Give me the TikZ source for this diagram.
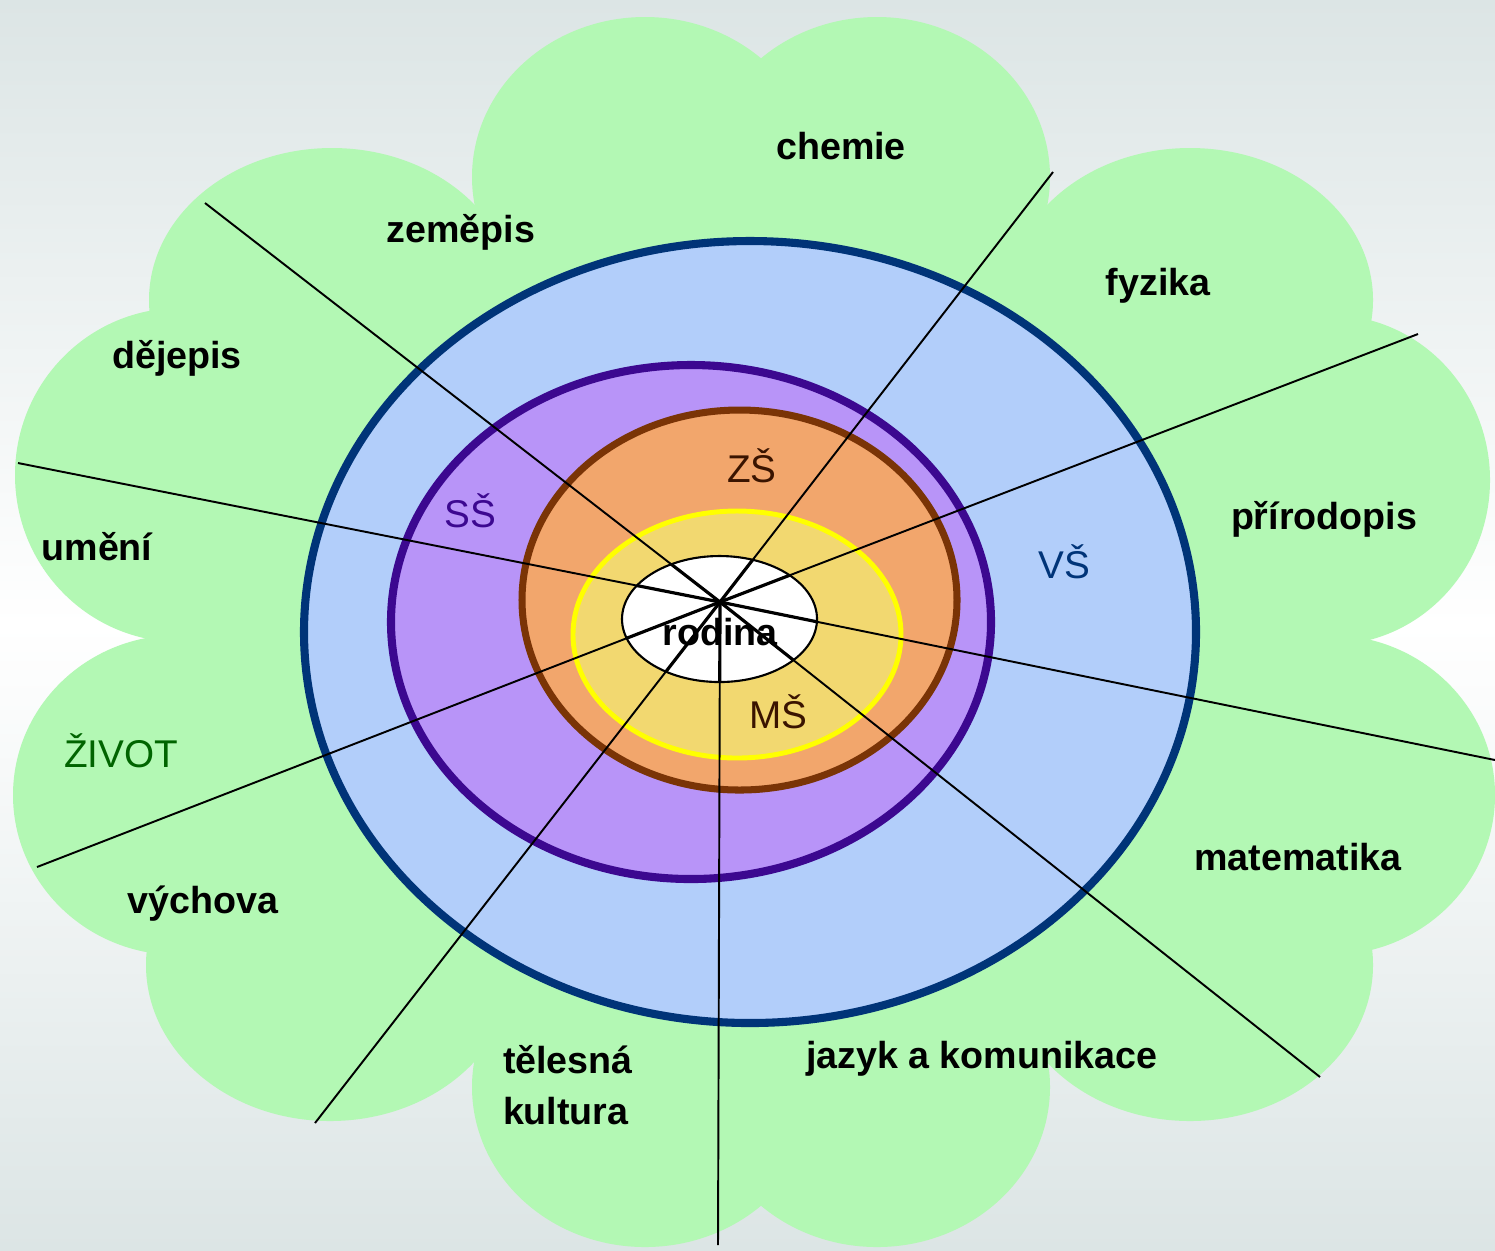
\documentclass[tikz,border=0pt]{standalone}
\usepackage{fontspec}
\setmainfont{Liberation Sans}

\definecolor{bggrey}{HTML}{DCE5E5}
\definecolor{petalgreen}{HTML}{B3F8B4}
\definecolor{vsfill}{HTML}{B2CEFA}
\definecolor{vsline}{HTML}{003478}
\definecolor{ssfill}{HTML}{B894F8}
\definecolor{ssline}{HTML}{3C0890}
\definecolor{zsfill}{HTML}{F2A66C}
\definecolor{zsline}{HTML}{7A3406}
\definecolor{msfill}{HTML}{F2D870}
\definecolor{msline}{HTML}{FFFF00}
\definecolor{zstext}{HTML}{3A1400}
\definecolor{lifegreen}{HTML}{006400}

\begin{document}
\begin{tikzpicture}[
    x = 0.01cm,
    y = -0.01cm,
    petal/.style = {fill=petalgreen},
    ray/.style = {black, line width=0.55pt},
    subject/.style = {font=\fontsize{10.7}{13}\selectfont\bfseries,
              anchor=base, inner sep=0pt, outer sep=0pt},
    school/.style = {font=\fontsize{11}{13}\selectfont,
              anchor=base, inner sep=0pt, outer sep=0pt},
    ]

\useasboundingbox (0,0) rectangle (1495,1250);
\shade [top color=bggrey, bottom color=white] (0,0) rectangle (1495,625);
\shade [top color=white, bottom color=bggrey] (0,625) rectangle (1495,1250);

% petals
\foreach \cx/\cy/\rx/\ry in {645/177/173/160, 877/177/173/160, 1190/300/183/152,
    1330/480/160/165, 1330/795/165/160, 1190/965/183/156, 877/1087/173/160,
    645/1087/173/160, 330/965/184/156, 178/795/165/160, 180/475/165/167,
    332/300/183/152}
    \fill [petal] (\cx,\cy) ellipse [x radius=\rx, y radius=\ry];
\fill [petal] (645,177) -- (877,177) -- (1190,300) -- (1330,480) -- (1330,795)
    -- (1190,965) -- (877,1087) -- (645,1087) -- (330,965) -- (178,795)
    -- (180,475) -- (332,300) -- cycle;

% rings
\draw [vsline, fill=vsfill, line width=2.3pt] (750,632) ellipse [x radius=446, y radius=391];
\draw [ssline, fill=ssfill, line width=2.3pt] (691,622) ellipse [x radius=300, y radius=257];
\draw [zsline, fill=zsfill, line width=2pt] (739.5,600) ellipse [x radius=217.5, y radius=190];
\draw [msline, fill=msfill, line width=1.4pt] (737,634.5) ellipse [x radius=164, y radius=123.5];
\draw [black, fill=white, line width=0.6pt] (719.5,619) ellipse [x radius=97.5, y radius=63];

% rays
\coordinate (hub) at (720,602);
\foreach \ex/\ey [count=\i] in {205/203, 1053/172, 1418/334, 1495/760, 1320/1077,
    718/1245, 315/1123, 37/867, 18/463}
    \coordinate (end_\i) at (\ex,\ey);
\foreach \i in {1,...,9}
    \draw [ray] (hub) -- (end_\i);
\begin{scope}
\clip (719.5,619) ellipse [x radius=97.5, y radius=63];
\foreach \i in {1,...,9}
    \draw [ray, line width=0.9pt] (hub) -- (end_\i);
\end{scope}

% labels
\node [subject] (chemie) at (841,159) {chemie};
\node [subject] (zemepis) at (461,242) {zeměpis};
\node [subject] (dejepis) at (177,368) {dějepis};
\node [subject] (fyzika) at (1158,295) {fyzika};
\node [subject] (prirodopis) at (1324,529) {přírodopis};
\node [subject] (umeni) at (97,560) {umění};
\node [subject] (matematika) at (1298,870) {matematika};
\node [subject] (vychova) at (203,913) {výchova};
\node [subject, anchor=base west] (telesna) at (503,1073) {tělesná};
\node [subject, anchor=base west] (kultura) at (503,1124) {kultura};
\node [subject, anchor=base west] (jazyk) at (806,1068) {jazyk a komunikace};
\node [subject] (rodina) at (720,645) {rodina};

\node [school, text=lifegreen] (zivot) at (121,767) {ŽIVOT};
\node [school, text=ssline] (ss) at (470,527) {SŠ};
\node [school, text=zstext] (zs) at (752,482) {ZŠ};
\node [school, text=vsline] (vs) at (1064,578) {VŠ};
\node [school, text=zstext] (ms) at (778,728) {MŠ};

\end{tikzpicture}
\end{document}
